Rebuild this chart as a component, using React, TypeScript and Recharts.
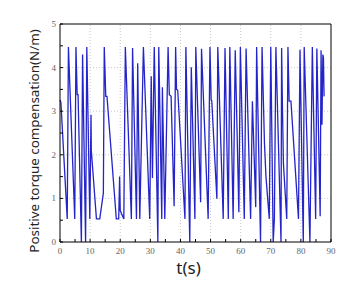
import { LineChart, Line, XAxis, YAxis, ReferenceLine, Label } from 'recharts';

const TIME = [
  0.0, 0.3, 2.4, 2.8, 4.9, 5.3, 5.7, 6.0, 7.1, 7.5, 8.5, 8.9, 9.9, 10.3, 10.4, 12.1, 13.2, 14.4, 14.7,
  15.2, 15.6, 18.7, 19.5, 19.8, 20.0, 21.2, 21.7, 23.7, 24.1, 25.4, 25.8, 26.5, 27.7, 29.8, 30.3,
  30.7, 31.3, 32.5, 32.8, 33.8, 34.0, 34.8, 35.9, 36.3, 36.9, 37.9, 38.4, 38.7, 39.1, 41.5, 41.8,
  43.1, 43.6, 44.8, 45.1, 46.7, 47.0, 49.2, 49.8, 50.2, 50.4, 52.1, 52.4, 54.2, 54.8, 55.9, 56.4,
  57.5, 58.2, 59.4, 59.9, 61.2, 61.8, 63.3, 63.9, 65.0, 65.3, 66.6, 67.1, 67.9, 68.4, 69.5, 70.0,
  70.8, 71.2, 71.7, 73.4, 73.6, 73.9, 74.2, 75.3, 75.7, 76.1, 76.7, 79.2, 79.7, 80.8, 81.1, 83.0,
  83.8, 84.9, 85.3, 86.4, 86.7, 87.0, 87.3, 87.5, 87.7,
];

const TORQUE = [
  3.26, 3.2, 0.53, 4.47, 0.53, 4.47, 3.38, 3.38, 0, 4.3, 0, 4.47, 0.53, 2.92, 2.1, 0.53, 0.53, 1.12, 4.47,
  3.34, 3.34, 0.53, 0.53, 1.5, 0.72, 0.53, 4.47, 0.53, 4.45, 0.53, 4.1, 0.53, 4.47, 0.53, 3.8,
  1.47, 4.47, 0, 4.47, 0.53, 3.55, 0.53, 4.47, 3.38, 3.34, 0.82, 4.47, 3.5, 3.48, 0.53, 4.47,
  0, 4.01, 0.53, 4.47, 0.91, 4.43, 0.53, 4.47, 3.26, 3.24, 0.99, 4.47, 0.53, 4.45, 0.53, 4.47,
  0.53, 4.4, 0.68, 4.47, 0.53, 4.44, 0.53, 3.23, 0.8, 4.47, 0, 4.47, 2.27, 1.5, 0.53, 4.47,
  0, 0.53, 4.47, 0, 4.45, 3.0, 1.8, 0.53, 4.47, 3.23, 3.23, 0.53, 4.41, 0, 4.47, 0,
  4.47, 0.53, 4.44, 0.59, 4.4, 2.69, 4.3, 4.22, 3.34,
];

const X_TICKS = [0, 5, 10, 15, 20, 25, 30, 35, 40, 45, 50, 55, 60, 65, 70, 75, 80, 85, 90];
const Y_TICKS = [0, 0.5, 1, 1.5, 2, 2.5, 3, 3.5, 4, 4.5, 5];
const X_GRID = [10, 20, 30, 40, 50, 60, 70, 80];
const Y_GRID = [1, 2, 3, 4];

const data = TIME.map((t, i) => ({ t, v: TORQUE[i] }));

const tickFont = { fontFamily: '"Liberation Serif", serif', fontSize: 9, fill: '#666' };
const labelFont = { fontFamily: '"Noto Sans", sans-serif', fill: '#222' };

const XTick = ({ x, y, payload }: any) => {
  const major = payload.value % 10 === 0;
  return (
    <g>
      <line x1={x} x2={x} y1={y} y2={y - 3} stroke="#000" strokeWidth={1} />
      {major && (
        <text x={x} y={y + 12} textAnchor="middle" {...tickFont}>
          {payload.value}
        </text>
      )}
    </g>
  );
};

const YTick = ({ x, y, payload }: any) => {
  const major = payload.value % 1 === 0;
  return (
    <g>
      <line x1={x} x2={x + 3} y1={y} y2={y} stroke="#000" strokeWidth={1} />
      {major && (
        <text x={x - 4} y={y + 3} textAnchor="end" {...tickFont}>
          {payload.value}
        </text>
      )}
    </g>
  );
};

const YLabel = ({ viewBox }: any) => {
  const cx = viewBox.x - 6;
  const cy = viewBox.y + viewBox.height / 2 + 8;
  return (
    <text
      transform={`translate(${cx},${cy}) rotate(-90)`}
      textAnchor="middle"
      dominantBaseline="central"
      fontSize={13.4}
      {...labelFont}
    >
      Positive torque compensation(N/m)
    </text>
  );
};

export default function App() {
  return (
    <div style={{ position: 'absolute', left: 0, top: 0, background: '#fff' }}>
      <LineChart width={363} height={281} data={data} margin={{ top: 24, right: 32, bottom: 19, left: 40 }}>
        {X_GRID.map((g) => (
          <ReferenceLine key={`gx${g}`} x={g} stroke="#c8c8c8" strokeDasharray="1 2" />
        ))}
        {Y_GRID.map((g) => (
          <ReferenceLine key={`gy${g}`} y={g} stroke="#c8c8c8" strokeDasharray="1 2" />
        ))}
        <XAxis
          dataKey="t"
          type="number"
          domain={[0, 90]}
          ticks={X_TICKS}
          interval={0}
          height={20}
          tickSize={0}
          tickMargin={0}
          tickLine={false}
          axisLine={{ stroke: '#000' }}
          tick={<XTick />}
        >
          <Label value="t(s)" position="bottom" offset={0} dx={-7} style={{ ...labelFont, fontSize: 17 }} />
        </XAxis>
        <YAxis
          type="number"
          domain={[0, 5]}
          ticks={Y_TICKS}
          interval={0}
          width={20}
          tickSize={0}
          tickMargin={0}
          tickLine={false}
          axisLine={{ stroke: '#000' }}
          tick={<YTick />}
        >
          <Label content={<YLabel />} />
        </YAxis>
        <ReferenceLine y={5} stroke="#000" />
        <ReferenceLine x={90} stroke="#000" />
        <Line
          type="linear"
          dataKey="v"
          stroke="#2424c8"
          strokeWidth={1.3}
          dot={false}
          isAnimationActive={false}
        />
      </LineChart>
    </div>
  );
}
